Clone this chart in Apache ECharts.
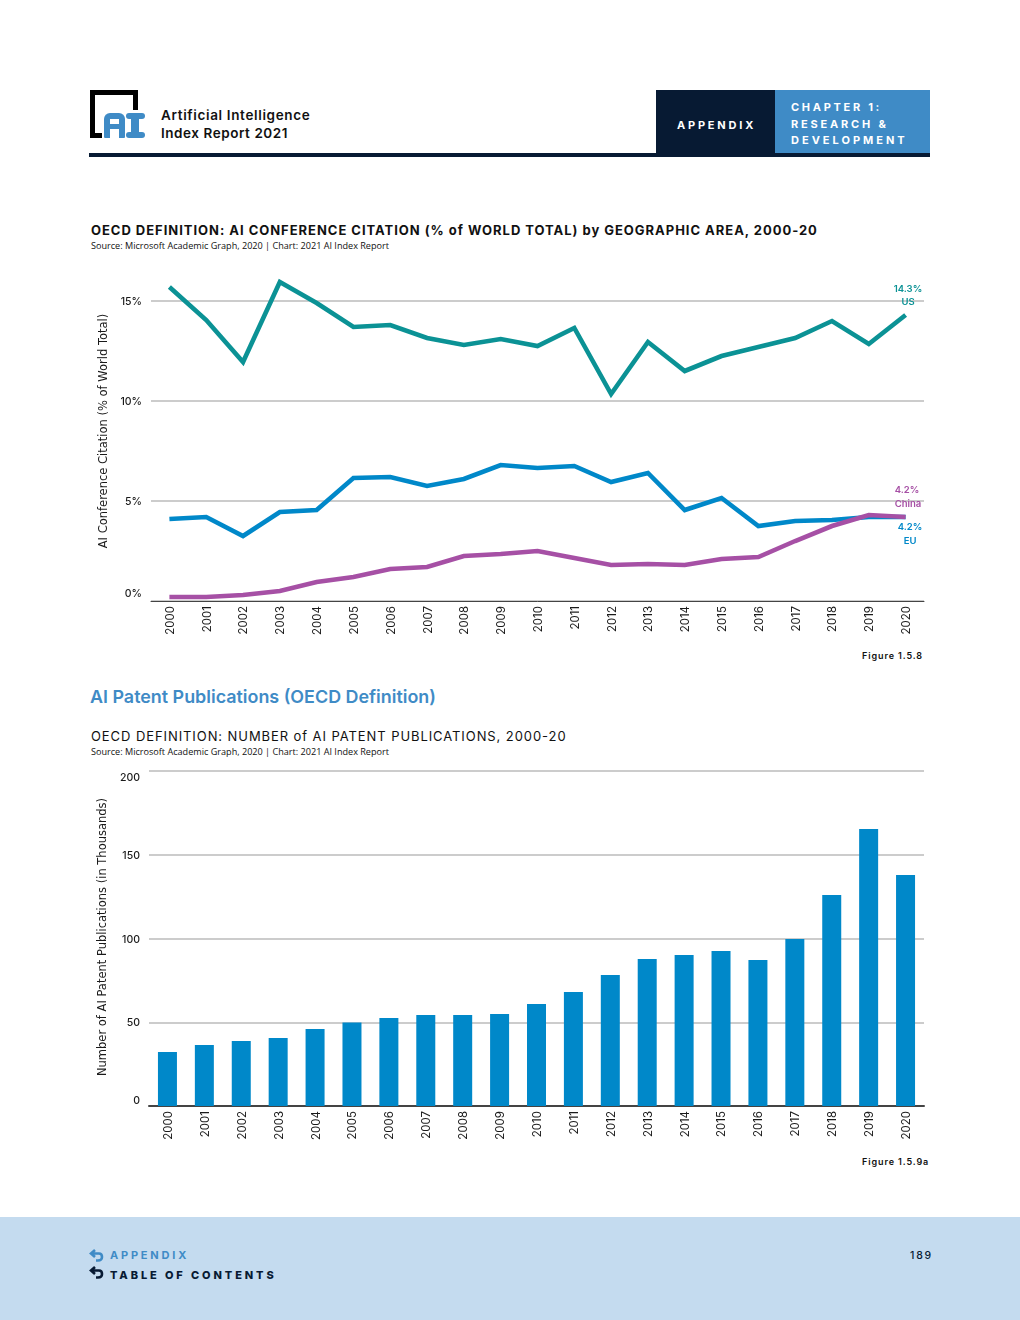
<!DOCTYPE html>
<html><head><meta charset="utf-8">
<script src="https://cdn.jsdelivr.net/npm/echarts@6/dist/echarts.min.js"></script>
<style>
html,body{margin:0;padding:0;background:#fff}
#page{position:relative;width:1020px;height:1320px;overflow:hidden;font-family:Inter,sans-serif;color:#111}
#chart{position:absolute;left:0;top:0;width:1020px;height:1320px}
.t{position:absolute;white-space:nowrap;line-height:1}
.b{position:absolute}
</style></head><body>
<div id="page">
<div class="b" style="left:89px;top:153px;width:841px;height:4px;background:#071a33"></div>
<div class="b" style="left:656px;top:90px;width:119px;height:67px;background:#071a33"></div>
<div class="b" style="left:775px;top:90px;width:155px;height:63px;background:#3f8bc6"></div>
<div class="b" style="left:90px;top:90px;width:5px;height:48px;background:#000"></div>
<div class="b" style="left:90px;top:90px;width:48px;height:5px;background:#000"></div>
<div class="b" style="left:133px;top:90px;width:5px;height:20px;background:#000"></div>
<div class="b" style="left:90px;top:133px;width:12px;height:5px;background:#000"></div>
<div class="b" style="left:104px;top:113px;width:21px;height:25px;background:#3f8bc6;border-radius:6px 6px 1px 1px"></div>
<div class="b" style="left:110px;top:119px;width:9px;height:5px;background:#fff"></div>
<div class="b" style="left:110px;top:129px;width:9px;height:9px;background:#fff"></div>
<div class="b" style="left:126px;top:113px;width:19px;height:6px;background:#3f8bc6;border-radius:3px"></div>
<div class="b" style="left:131px;top:113px;width:8px;height:25px;background:#3f8bc6"></div>
<div class="b" style="left:126px;top:132px;width:19px;height:6px;background:#3f8bc6;border-radius:3px"></div>
<div class="t" style="left:161px;top:109px;font-size:13.5px;font-weight:600;letter-spacing:.65px">Artificial Intelligence</div>
<div class="t" style="left:161px;top:127px;font-size:13.5px;font-weight:600;letter-spacing:.55px">Index Report 2021</div>
<div class="t" style="left:677px;top:120px;font-size:11px;font-weight:700;letter-spacing:2.8px;color:#fff">APPENDIX</div>
<div class="t" style="left:791px;top:102px;font-size:11px;font-weight:700;letter-spacing:2.7px;color:#fff">CHAPTER 1:</div>
<div class="t" style="left:791px;top:119px;font-size:11px;font-weight:700;letter-spacing:2.8px;color:#fff">RESEARCH &amp;</div>
<div class="t" style="left:791px;top:135px;font-size:11px;font-weight:700;letter-spacing:3px;color:#fff">DEVELOPMENT</div>
<div class="t" style="left:91px;top:224px;font-size:13px;font-weight:700;letter-spacing:.97px">OECD DEFINITION: AI CONFERENCE CITATION (% of WORLD TOTAL) by GEOGRAPHIC AREA, 2000-20</div>
<div class="t" style="left:91px;top:240.5px;font-size:9.1px;font-family:'Open Sans',sans-serif">Source: Microsoft Academic Graph, 2020 | Chart: 2021 AI Index Report</div>
<div class="t" style="left:862px;top:651px;font-size:9px;font-weight:600;letter-spacing:.9px">Figure 1.5.8</div>
<div class="t" style="left:90px;top:688px;font-size:17.9px;font-weight:600;color:#3f8bc6">AI Patent Publications (OECD Definition)</div>
<div class="t" style="left:91px;top:730px;font-size:13px;font-weight:400;letter-spacing:.92px">OECD DEFINITION: NUMBER of AI PATENT PUBLICATIONS, 2000-20</div>
<div class="t" style="left:91px;top:746.5px;font-size:9.1px;font-family:'Open Sans',sans-serif">Source: Microsoft Academic Graph, 2020 | Chart: 2021 AI Index Report</div>
<div class="t" style="left:862px;top:1157px;font-size:9px;font-weight:600;letter-spacing:.9px">Figure 1.5.9a</div>
<div class="b" style="left:0;top:1217px;width:1020px;height:103px;background:#c4dbef"></div>
<svg class="b" style="left:89px;top:1247px" width="16" height="36" viewBox="0 0 16 36" fill="none" stroke-width="2.6">
<path d="M6 3 L2 6.5 L6 10 M3 6.5 H10 Q13 6.5 13 10 Q13 13.5 9 13.5 H7" stroke="#3f8bc6"/>
<path d="M6 20 L2 23.5 L6 27 M3 23.5 H10 Q13 23.5 13 27 Q13 30.5 9 30.5 H7" stroke="#071a33"/></svg>
<div class="t" style="left:110px;top:1250px;font-size:11px;font-weight:700;letter-spacing:2.8px;color:#3f8bc6">APPENDIX</div>
<div class="t" style="left:110px;top:1270px;font-size:11px;font-weight:800;letter-spacing:2.9px;color:#071a33">TABLE OF CONTENTS</div>
<div class="t" style="left:910px;top:1251px;font-size:10.5px;font-weight:500;letter-spacing:1.8px;color:#071a33">189</div>
<div id="chart"></div>
</div>
<script>
const years = ['2000','2001','2002','2003','2004','2005','2006','2007','2008','2009','2010','2011','2012','2013','2014','2015','2016','2017','2018','2019','2020'];
const usShare = [15.7,14.05,11.95,15.95,14.9,13.7,13.8,13.15,12.8,13.1,12.75,13.65,10.35,12.95,11.5,12.25,12.7,13.15,14,12.85,14.3];
const euShare = [4.1,4.2,3.25,4.45,4.55,6.15,6.2,5.75,6.1,6.8,6.65,6.75,5.95,6.4,4.55,5.15,3.75,4.0,4.05,4.2,4.2];
const chinaShare = [0.2,0.2,0.3,0.5,0.95,1.2,1.6,1.7,2.25,2.35,2.5,2.15,1.8,1.85,1.8,2.1,2.2,3.0,3.75,4.3,4.2];
const patents = [32.2,36.4,38.8,40.6,46,49.8,52.5,54.3,54.3,54.9,60.9,68,78.2,87.8,90.2,92.5,87.2,99.7,126,165.4,137.9];
const US='#0b9295',EU='#0088c9',CN='#a650a5',INK='#1a1a1a',FONT='Inter';
const chart = echarts.init(document.getElementById('chart'),null,{renderer:'canvas'});
function endTag(x,y,text,color){return {type:'text',x:x,y:y,z:10,style:{text:text,fill:color,font:'600 9.5px Inter',textAlign:'center',textVerticalAlign:'middle'}};}
const xAx = (i,w)=>({type:'category',gridIndex:i,data:years,boundaryGap:true,
  axisTick:{show:false},axisLine:{lineStyle:{color:'#444',width:w}},
  axisLabel:{rotate:90,interval:0,margin:5,color:INK,fontFamily:FONT,fontSize:11.5,fontWeight:400,
    formatter:v=>'{a|'+v+'}',
    rich:{a:{color:INK,fontFamily:FONT,fontSize:11.5,fontWeight:400,padding:[2,0,0,0]}}}});
const yAx = (i,max,itv,suffix,name,nameGap,namePad,lh)=>({type:'value',gridIndex:i,min:0,max:max,interval:itv,
  name:name,nameLocation:'middle',nameGap:nameGap,nameRotate:90,
  nameTextStyle:{color:INK,fontFamily:'DejaVu Sans',fontSize:11.5,padding:namePad},
  axisLine:{show:false},axisTick:{show:false},
  splitLine:{lineStyle:{color:'#bbbbbb',width:1.5}},
  axisLabel:{color:INK,fontFamily:FONT,fontSize:10.5,fontWeight:500,margin:9,
    formatter:v=>'{a|'+v+suffix+'}',
    rich:{a:{color:INK,fontFamily:FONT,fontSize:10.5,fontWeight:500,lineHeight:lh,padding:[2,0,0,0]}},
    verticalAlignMinLabel:'bottom',verticalAlignMaxLabel:i===1?'top':'middle'}});
const lineS = (name,data,color,z)=>({name:name,type:'line',xAxisIndex:0,yAxisIndex:0,data:data,clip:false,z:z,
  symbol:'none',lineStyle:{color:color,width:4.6,join:'miter'},emphasis:{disabled:true}});
chart.setOption({
  animation:false,
  grid:[{left:151,right:96,top:301,height:300},{left:149,right:96,top:771,height:335}],
  xAxis:[xAx(0,1),xAx(1,2)],
  yAxis:[yAx(0,15,5,'%','AI Conference Citation (% of World Total)',39,[0,0,0,40],16),
         yAx(1,200,50,'','Number of AI Patent Publications (in Thousands)',40,[0,0,0,3],12)],
  series:[lineS('US',usShare,US,3),lineS('EU',euShare,EU,4),lineS('China',chinaShare,CN,5),
    {name:'Patents',type:'bar',xAxisIndex:1,yAxisIndex:1,data:patents,barWidth:19,itemStyle:{color:'#0088c9'},emphasis:{disabled:true},z:3}],
  graphic:[endTag(908,289,'14.3%',US),endTag(908,302,'US',US),
           endTag(907,490,'4.2%',CN),endTag(908,504,'China',CN),
           endTag(910,527,'4.2%',EU),endTag(910,541,'EU',EU)]
});
</script></body></html>
